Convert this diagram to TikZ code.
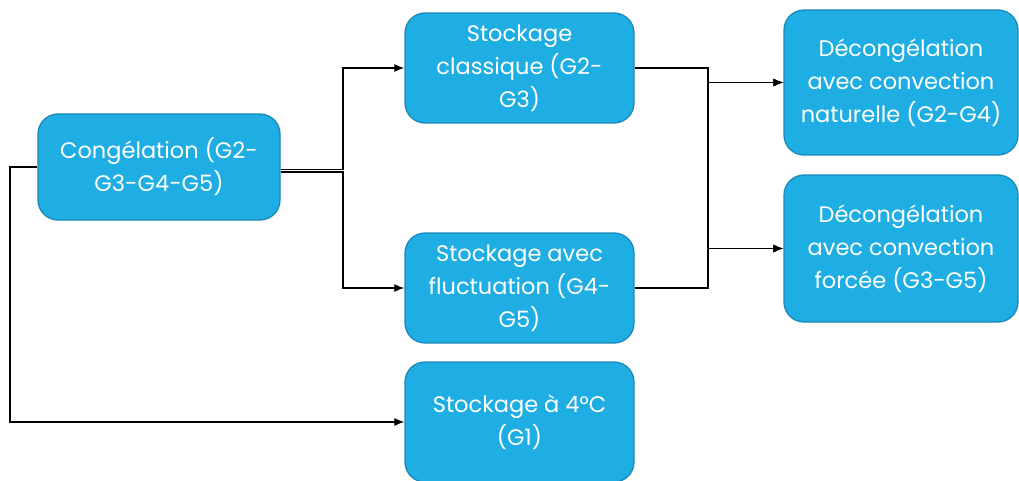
\documentclass[tikz,border=0pt]{standalone}
\usepackage{fontspec}
\setmainfont{Poppins}
\usetikzlibrary{arrows.meta}
\definecolor{boxblue}{RGB}{30,174,227}
\definecolor{boxedge}{RGB}{27,138,184}

\begin{document}
\begin{tikzpicture}[x=1pt,y=-1pt,->,>={Latex[length=10pt,width=8pt]},line width=1.2pt,
		box node/.style={rectangle,rounded corners=20pt,draw=boxedge,fill=boxblue,line width=1.3pt,
		text=white,align=center,font=\fontsize{22.5}{33}\selectfont,inner sep=0pt}]
		
		\useasboundingbox (0,0) rectangle (1019,481);
		\node[box node, minimum width=242pt, minimum height=106pt] (1) at (159,167) {Congélation (G2-\\G3-G4-G5)};
		\node[box node, minimum width=229pt, minimum height=110pt] (2) at (519.5,68) {Stockage\\classique (G2-\\G3)};
		\node[box node, minimum width=229pt, minimum height=110pt] (3) at (519.5,288) {Stockage avec\\fluctuation (G4-\\G5)};
		\node[box node, minimum width=229pt, minimum height=120pt] (4) at (519.5,422) {Stockage à 4°C\\(G1)};
		\node[box node, minimum width=234pt, minimum height=145pt] (5) at (901,82.5) {Décongélation\\avec convection\\naturelle (G2-G4)};
		\node[box node, minimum width=234pt, minimum height=147pt] (6) at (901,248.5) {Décongélation\\avec convection\\forcée (G3-G5)};
		
		\coordinate (a) at (10,0);
		\coordinate (b) at (343,0);
		\coordinate (c) at (708,0);
		
		\draw ([yshift=-2.5pt]1.east) -- ([yshift=-2.5pt]1.east -| b) |- (2.west);
		\draw ([yshift=-5pt]1.east) -- ([yshift=-5pt]1.east -| b) |- (3.west);
		\draw (1.west) -- (1.west -| a) |- (4.west);
		\draw (2.east) -- (2.east -| c) |- (5.west);
		\draw (2.east) -- (2.east -| c) |- (6.west);
		\draw (3.east) -- (3.east -| c) |- (5.west);
		\draw (3.east) -- (3.east -| c) |- (6.west);
\end{tikzpicture}
\end{document}
